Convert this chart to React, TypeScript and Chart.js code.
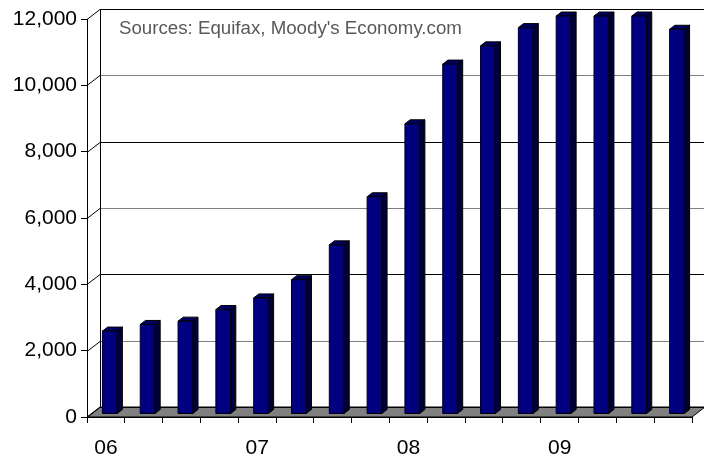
import { useEffect, useRef } from "react";
import { Chart, registerables } from "chart.js";

Chart.register(...registerables);

// ---- data ----
const categories = ["06", "", "", "", "07", "", "", "", "08", "", "", "", "09", "", "", ""];
const values = [2500, 2700, 2800, 3150, 3500, 4050, 5100, 6550, 8750, 10550, 11100, 11650, 12000, 12000, 12000, 11600];
const yTicks = [0, 2000, 4000, 6000, 8000, 10000, 12000];
const sourceNote = "Sources: Equifax, Moody's Economy.com";

const FONT = "'Liberation Sans', Arial, Helvetica, sans-serif";
const DX = 13;
const DY = -10;
const BAR_FRONT = 0.3;
const BAR_DEPTH = 0.4;

const wall3d = {
  id: "wall3d",
  beforeDatasetsDraw(chart: any) {
    const { ctx, chartArea: a, scales } = chart;
    const y = scales.y;
    ctx.save();
    // floor
    ctx.beginPath();
    ctx.moveTo(a.left, a.bottom);
    ctx.lineTo(a.right, a.bottom);
    ctx.lineTo(a.right + DX, a.bottom + DY);
    ctx.lineTo(a.left + DX, a.bottom + DY);
    ctx.closePath();
    ctx.fillStyle = "#808080";
    ctx.fill();
    ctx.lineWidth = 1;
    ctx.strokeStyle = "#000";
    ctx.stroke();
    // back wall gridlines + left wall diagonals
    yTicks.forEach((v, i) => {
      const py = Math.round(y.getPixelForValue(v)) + 0.5;
      ctx.beginPath();
      ctx.moveTo(a.left + DX, py + DY);
      ctx.lineTo(chart.width, py + DY);
      ctx.strokeStyle = i % 2 === 1 ? "#808080" : "#000";
      ctx.stroke();
      ctx.beginPath();
      ctx.moveTo(a.left, py);
      ctx.lineTo(a.left + DX, py + DY);
      ctx.strokeStyle = "#000";
      ctx.stroke();
    });
    // left wall back edge
    ctx.beginPath();
    ctx.moveTo(a.left + DX + 0.5, Math.round(a.top) + DY);
    ctx.lineTo(a.left + DX + 0.5, Math.round(a.bottom) + DY);
    ctx.strokeStyle = "#000";
    ctx.stroke();
    ctx.restore();
  },
  afterDatasetsDraw(chart: any) {
    const { ctx } = chart;
    const meta = chart.getDatasetMeta(0);
    ctx.save();
    ctx.lineWidth = 1;
    ctx.strokeStyle = "#000";
    ctx.lineJoin = "miter";
    meta.data.forEach((bar: any) => {
      const p = bar.getProps(["x", "y", "base", "width"], true);
      const w = p.width;
      const fx = p.x - w / 2 + DX * BAR_FRONT;
      const ft = p.y + DY * BAR_FRONT;
      const fb = p.base + DY * BAR_FRONT;
      const sx = DX * BAR_DEPTH;
      const sy = DY * BAR_DEPTH;
      // side
      ctx.beginPath();
      ctx.moveTo(fx + w, ft);
      ctx.lineTo(fx + w + sx, ft + sy);
      ctx.lineTo(fx + w + sx, fb + sy);
      ctx.lineTo(fx + w, fb);
      ctx.closePath();
      ctx.fillStyle = "#00003c";
      ctx.fill();
      ctx.stroke();
      // top
      ctx.beginPath();
      ctx.moveTo(fx, ft);
      ctx.lineTo(fx + sx, ft + sy);
      ctx.lineTo(fx + w + sx, ft + sy);
      ctx.lineTo(fx + w, ft);
      ctx.closePath();
      ctx.fillStyle = "#000060";
      ctx.fill();
      ctx.stroke();
      // front
      ctx.beginPath();
      ctx.rect(fx, ft, w, fb - ft);
      ctx.fillStyle = "#000080";
      ctx.fill();
      ctx.stroke();
    });
    ctx.restore();
  },
  afterDraw(chart: any) {
    const { ctx } = chart;
    ctx.save();
    ctx.font = `18.7px ${FONT}`;
    ctx.fillStyle = "#595959";
    ctx.textBaseline = "middle";
    ctx.textAlign = "left";
    ctx.fillText(sourceNote, 119, 29);
    ctx.restore();
  },
};

export default function App() {
  const ref = useRef<HTMLCanvasElement | null>(null);
  useEffect(() => {
    if (!ref.current) return;
    const chart = new Chart(ref.current, {
      type: "bar",
      data: {
        labels: categories,
        datasets: [
          {
            data: values,
            backgroundColor: "rgba(0,0,0,0)",
            borderWidth: 0,
            categoryPercentage: 1,
            barPercentage: 0.39,
          },
        ],
      },
      options: {
        responsive: false,
        animation: false,
        layout: { padding: { top: 19, right: 12, left: 0, bottom: 0 } },
        plugins: { legend: { display: false }, tooltip: { enabled: false }, title: { display: false } },
        scales: {
          x: {
            type: "category",
            offset: true,
            afterFit: (s: any) => {
              s.height = 40;
            },
            grid: { offset: true, drawOnChartArea: false, drawTicks: true, tickLength: 6, color: "#000", lineWidth: 1 },
            border: { color: "#000", width: 1 },
            ticks: { autoSkip: false, maxRotation: 0, color: "#000", font: { family: FONT, size: 21 }, padding: 13 },
          },
          y: {
            min: 0,
            max: 12000,
            afterFit: (s: any) => {
              s.width = 87;
            },
            grid: { drawOnChartArea: false, drawTicks: true, tickLength: 6, color: "#000", lineWidth: 1 },
            border: { color: "#000", width: 1 },
            ticks: {
              stepSize: 2000,
              color: "#000",
              padding: 4,
              font: { family: FONT, size: 21 },
              callback: (v: any) => Number(v).toLocaleString("en-US"),
            },
          },
        },
      },
      plugins: [wall3d],
    });
    return () => chart.destroy();
  }, []);
  return (
    <div style={{ position: "fixed", left: 0, top: 0, width: 704, height: 457, background: "#fff" }}>
      <canvas ref={ref} width={704} height={457} />
    </div>
  );
}
